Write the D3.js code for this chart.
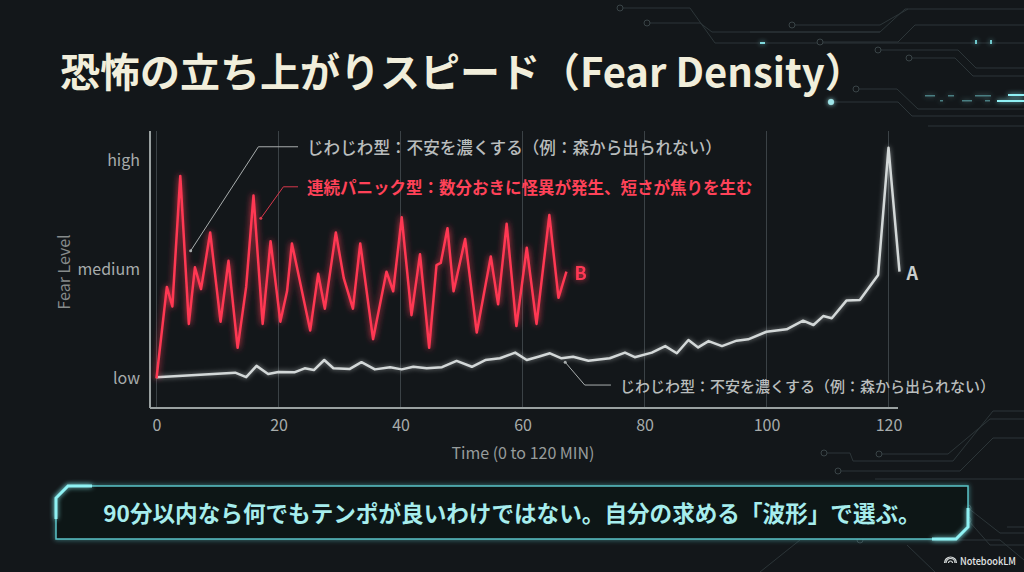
<!DOCTYPE html>
<meta charset="utf-8">
<style>
  html, body { margin: 0; padding: 0; background: #13171a; }
  svg { display: block; }
  text { font-family: "Noto Sans CJK JP", "Noto Sans", sans-serif; }
</style>
<body>
<svg id="chart" width="1024" height="572"></svg>
<script src="https://d3js.org/d3.v7.min.js"></script>
<script>
// ---- data ----
// continuous-panic type (B): minutes and fear values (low = 0, medium = 50, high = 100)
const panicMin = [0, 1.7, 2.6, 3.9, 5.3, 6.3, 7.3, 8.8, 10.5, 11.8, 13.3, 14.7, 15.9, 17.4, 18.7, 20.3, 21.4, 22.2,
  25.2, 26.5, 27.6, 29.4, 30.7, 32.2, 33.4, 35.5, 37.7, 38.8, 40.2, 41.8, 43.2, 44.7, 45.9, 46.6, 47.7, 48.7,
  50.6, 52.5, 54.8, 56.0, 57.4, 59.0, 60.7, 62.3, 64.4, 65.9, 67.2];
const panicVal = [0, 42, 33, 93, 25, 51, 41, 67, 26, 54, 14, 42, 84, 25, 63, 26, 40, 62,
  22, 48, 32, 67, 46, 32, 62, 18, 49, 40, 74, 29, 57, 14, 52, 53, 69, 40,
  64, 21, 56, 34, 71, 24, 60, 25, 75, 37, 49];

// slow-burn type (A)
const slowMin = [0, 12.9, 14.7, 16.4, 18.3, 20, 22.7, 24.3, 25.8, 27.5, 29, 31.7, 33.6, 35.8, 38.3, 40.2, 42.1,
  44.3, 46.8, 49.2, 51.7, 53.9, 56.3, 58.8, 60.7, 62.6, 64.5, 66.4, 68.3, 70.8, 74.3, 76.8, 78.4, 81.2,
  83.4, 85.3, 87.2, 88.8, 90.5, 92.7, 95.1, 97, 100, 103.3, 106, 107.7, 109.3, 110.7, 113.1, 115.3,
  118.3, 120, 121.8];
const slowVal = [0.5, 2.6, 0.5, 5.7, 2, 2.9, 2.8, 4.6, 3.8, 8.4, 4.6, 4.3, 7.4, 4.1, 5.1, 4.1, 5.3,
  4.6, 5.1, 8, 5.3, 8.4, 9.2, 11.8, 8.4, 9.9, 11.5, 9.2, 9.9, 8.1, 9.2, 11.8, 9.7, 11.8,
  14.8, 11.5, 17.6, 14.2, 17.1, 14.8, 17.3, 17.9, 21.4, 22.5, 26.5, 24.5, 28.6, 27.6, 35.7, 36,
  47.5, 106, 49];

const xTicks = [0, 20, 40, 60, 80, 100, 120];
const yTicks = [0, 50, 100];
const yTickLabels = ["low", "medium", "high"];

const titleText = "恐怖の立ち上がりスピード（Fear Density）";
const slowNote = "じわじわ型：不安を濃くする（例：森から出られない）";
const panicNote = "連続パニック型：数分おきに怪異が発生、短さが焦りを生む";
const bannerText = "90分以内なら何でもテンポが良いわけではない。自分の求める「波形」で選ぶ。";

// annotations: anchor point, elbow, text (all in data space)
const notes = [
  { text: slowNote, anchor: [5.6, 58.6], elbow: [16.7, 106.4], end: 23.2, cls: "gray", size: 16.6 },
  { text: panicNote, anchor: [17.1, 73.5], elbow: [20.8, 88], end: 23.2, cls: "red", size: 16.5 },
  { text: slowNote, anchor: [67, 7.4], elbow: [70.2, -3.1], end: 74.5, cls: "gray", size: 15 }
];

// ---- setup ----
const svg = d3.select("#chart");
const RED = "#ff3752", GRAY = "#d3d8d8";

const x = d3.scaleLinear().domain([0, 120]).range([156.5, 888.5]);
const y = d3.scaleLinear().domain([0, 100]).range([378.3, 160.7]);
const plotTop = 131, plotBottom = 408, axisLeftX = 150, axisRightX = 898;

const defs = svg.append("defs");
function glow(id, sd, op) {
  const f = defs.append("filter").attr("id", id)
    .attr("x", "-20%").attr("y", "-20%").attr("width", "140%").attr("height", "140%");
  f.append("feGaussianBlur").attr("in", "SourceGraphic").attr("stdDeviation", sd).attr("result", "b");
  f.append("feComponentTransfer").attr("in", "b").attr("result", "bo")
    .append("feFuncA").attr("type", "linear").attr("slope", op);
  const m = f.append("feMerge");
  m.append("feMergeNode").attr("in", "bo");
  m.append("feMergeNode").attr("in", "SourceGraphic");
}
glow("glowRed", 3, 0.9);
glow("glowGray", 2.5, 0.6);
glow("glowCyan", 2.5, 0.9);

// background
svg.append("rect").attr("width", 1024).attr("height", 572).attr("fill", "#13171a");

// decorative circuit traces (background only)
const traces = [
  [[620, 8], [690, 8], [715, 43], [1024, 43]],
  [[647, 23], [700, 23], [712, 32], [880, 32], [905, 9], [1024, 9]],
  [[750, 32], [880, 32]],
  [[792, 25], [880, 25], [908, 9]],
  [[820, 42], [898, 42], [915, 25], [1024, 25]],
  [[878, 50], [958, 50], [976, 68], [1024, 68]],
  [[909, 58], [955, 58], [973, 76], [1024, 76]],
  [[856, 89], [897, 89], [918, 109], [1024, 109]],
  [[831, 102], [898, 102], [912, 116], [1024, 116]],
  [[928, 126], [1024, 126]],
  [[824, 453], [850, 453], [853, 461], [953, 461], [993, 411], [1024, 411]],
  [[879, 454], [948, 454], [990, 419], [1024, 419]],
  [[838, 471], [960, 471], [993, 438], [1024, 438]],
  [[875, 479], [1024, 479]],
  [[968, 508], [1000, 533], [1024, 533]],
  [[1007, 527], [1024, 527]],
  [[968, 520], [990, 545], [1024, 545]],
  [[907, 545], [935, 572]],
  [[800, 540], [760, 572]],
  [[860, 540], [1000, 540], [1024, 560]]
];
const decor = svg.append("g").attr("fill", "none").attr("stroke", "#2c3538").attr("stroke-width", 1);
decor.selectAll("path").data(traces).join("path")
  .attr("d", d => d3.line()(d));
decor.selectAll("circle").data(traces.filter(t => t[0][0] > 600 && t[0][0] < 1000 && t.length > 2))
  .join("circle")
  .attr("cx", d => d[0][0]).attr("cy", d => d[0][1]).attr("r", 3)
  .attr("fill", "#13171a").attr("stroke", "#3a4447");
// cyan sparkles and data streams
const sparks = svg.append("g").attr("filter", "url(#glowCyan)");
sparks.append("circle").attr("cx", 831).attr("cy", 102).attr("r", 3).attr("fill", "#9fe6ea");
sparks.append("rect").attr("x", 760).attr("y", 42).attr("width", 5).attr("height", 2).attr("fill", "#7fd8dc");
[[975, 42], [990, 42]].forEach(p =>
  sparks.append("rect").attr("x", p[0]).attr("y", p[1] - 2).attr("width", 2).attr("height", 4).attr("fill", "#6fc8cc"));
sparks.append("rect").attr("x", 1008).attr("y", 94).attr("width", 16).attr("height", 2).attr("fill", "#8ff0f4");
sparks.append("rect").attr("x", 997).attr("y", 100).attr("width", 27).attr("height", 2).attr("fill", "#8ff0f4");
[[925, 95, 10], [948, 95, 6], [975, 95, 16], [940, 100, 3], [962, 100, 10], [985, 100, 5]].forEach(p =>
  sparks.append("rect").attr("x", p[0]).attr("y", p[1]).attr("width", p[2]).attr("height", 1.5)
    .attr("fill", "#4a7e82"));

// title
svg.append("text")
  .attr("x", 60).attr("y", 70)
  .attr("dominant-baseline", "central")
  .attr("fill", "#f1eedb")
  .attr("font-size", 40).attr("font-weight", 700)
  .text(titleText);

// gridlines
svg.append("g").selectAll("line").data(xTicks).join("line")
  .attr("x1", d => x(d)).attr("x2", d => x(d))
  .attr("y1", plotTop).attr("y2", plotBottom)
  .attr("stroke", "#3b4246").attr("stroke-width", 1);

// axes
const xAxis = svg.append("g")
  .attr("transform", `translate(0,${plotBottom})`)
  .call(d3.axisBottom(x).tickValues(xTicks).tickSize(0).tickPadding(12));
xAxis.select(".domain").remove();
xAxis.selectAll("text").attr("fill", "#a7acac").attr("font-size", 16)
  .attr("font-family", "'Noto Sans', sans-serif");

const yAxis = svg.append("g")
  .attr("transform", `translate(${axisLeftX},0)`)
  .call(d3.axisLeft(y).tickValues(yTicks).tickSize(0).tickPadding(10)
    .tickFormat((d, i) => yTickLabels[i]));
yAxis.select(".domain").remove();
yAxis.selectAll("text").attr("fill", "#a7acac").attr("font-size", 16)
  .attr("font-family", "'Noto Sans', sans-serif");

svg.append("line")
  .attr("x1", axisLeftX).attr("x2", axisLeftX).attr("y1", plotTop).attr("y2", plotBottom)
  .attr("stroke", "#9aa1a1").attr("stroke-width", 2);
svg.append("line")
  .attr("x1", axisLeftX).attr("x2", axisRightX).attr("y1", plotBottom).attr("y2", plotBottom)
  .attr("stroke", "#9aa1a1").attr("stroke-width", 2);

// axis titles
svg.append("text")
  .attr("transform", `translate(63,272) rotate(-90)`)
  .attr("text-anchor", "middle").attr("dominant-baseline", "central")
  .attr("fill", "#868b8b").attr("font-size", 16)
  .attr("font-family", "'Noto Sans', sans-serif")
  .text("Fear Level");
svg.append("text")
  .attr("x", 523).attr("y", 452)
  .attr("text-anchor", "middle").attr("dominant-baseline", "central")
  .attr("fill", "#979c9c").attr("font-size", 16)
  .attr("font-family", "'Noto Sans', sans-serif")
  .text("Time (0 to 120 MIN)");

// lines
const line = d3.line().x(d => x(d[0])).y(d => y(d[1]));
const slowData = slowMin.map((m, i) => [m, slowVal[i]]);
const panicData = panicMin.map((m, i) => [m, panicVal[i]]);

svg.append("path").datum(slowData)
  .attr("d", line).attr("fill", "none")
  .attr("stroke", GRAY).attr("stroke-width", 2.5).attr("stroke-linejoin", "round")
  .attr("filter", "url(#glowGray)");
svg.append("path").datum(panicData)
  .attr("d", line).attr("fill", "none")
  .attr("stroke", RED).attr("stroke-width", 2.5).attr("stroke-linejoin", "round")
  .attr("filter", "url(#glowRed)");

// end labels
const lastP = panicData[panicData.length - 1], lastS = slowData[slowData.length - 1];
svg.append("text")
  .attr("x", x(lastP[0]) + 8).attr("y", y(lastP[1]))
  .attr("dominant-baseline", "central")
  .attr("fill", RED).attr("font-size", 18).attr("font-weight", 700)
  .attr("font-family", "'Noto Sans', sans-serif")
  .attr("filter", "url(#glowRed)")
  .text("B");
svg.append("text")
  .attr("x", x(lastS[0]) + 7).attr("y", y(lastS[1]))
  .attr("dominant-baseline", "central")
  .attr("fill", "#c9cece").attr("font-size", 18).attr("font-weight", 700)
  .attr("font-family", "'Noto Sans', sans-serif")
  .text("A");

// annotations
notes.forEach(n => {
  const col = n.cls === "red" ? "#ff4258" : "#b9bdbd";
  const lc = n.cls === "red" ? "#d8384c" : "#a9aeae";
  const g = svg.append("g");
  g.append("path")
    .attr("d", d3.line()([[x(n.anchor[0]), y(n.anchor[1])], [x(n.elbow[0]), y(n.elbow[1])], [x(n.end), y(n.elbow[1])]]))
    .attr("fill", "none").attr("stroke", lc).attr("stroke-width", 1);
  g.append("circle").attr("cx", x(n.anchor[0])).attr("cy", y(n.anchor[1])).attr("r", 1.5).attr("fill", lc);
  g.append("text")
    .attr("x", x(n.end) + 9).attr("y", y(n.elbow[1]))
    .attr("dominant-baseline", "central")
    .attr("fill", col).attr("font-size", n.size)
    .attr("font-weight", n.cls === "red" ? 700 : 500)
    .text(n.text);
});

// bottom banner
const bx0 = 56, bx1 = 968, by0 = 486, by1 = 539, ch = 12;
const banner = svg.append("g");
banner.append("path")
  .attr("d", d3.line()([[bx0, by0 + ch], [bx0 + ch, by0], [bx1, by0], [bx1, by1 - ch], [bx1 - ch, by1], [bx0, by1], [bx0, by0 + ch]]))
  .attr("fill", "#111619").attr("stroke", "#58c2c6").attr("stroke-width", 1.5)
  .attr("filter", "url(#glowCyan)");
banner.append("path")
  .attr("d", d3.line()([[bx0, by0 + 33], [bx0, by0 + ch], [bx0 + ch, by0], [bx0 + 36, by0]]))
  .attr("fill", "none").attr("stroke", "#8ff2f4").attr("stroke-width", 3)
  .attr("filter", "url(#glowCyan)");
banner.append("path")
  .attr("d", d3.line()([[bx1, by0 + 22], [bx1, by1 - ch], [bx1 - ch, by1], [bx1 - 36, by1]]))
  .attr("fill", "none").attr("stroke", "#8ff2f4").attr("stroke-width", 3)
  .attr("filter", "url(#glowCyan)");
banner.append("text")
  .attr("x", 512).attr("y", 512)
  .attr("text-anchor", "middle").attr("dominant-baseline", "central")
  .attr("fill", "#a6eded").attr("font-size", 22.6).attr("font-weight", 700)
  .text(bannerText);

// watermark
const wm = svg.append("g").attr("transform", "translate(946,559)");
wm.append("path")
  .attr("d", "M0,4 a4.5,4.5 0 0 1 9,0 M2.5,4 a2,2 0 0 1 4,0 M-1.5,4 a6,6 0 0 1 12,0")
  .attr("fill", "none").attr("stroke", "#d8dcdc").attr("stroke-width", 1.2);
wm.append("text")
  .attr("x", 14).attr("y", 1)
  .attr("dominant-baseline", "central")
  .attr("fill", "#e2e5e5").attr("font-size", 10.5).attr("font-weight", 500)
  .attr("font-family", "'Noto Sans', sans-serif")
  .attr("textLength", 56).attr("lengthAdjust", "spacingAndGlyphs")
  .text("NotebookLM");
</script>
</body>
